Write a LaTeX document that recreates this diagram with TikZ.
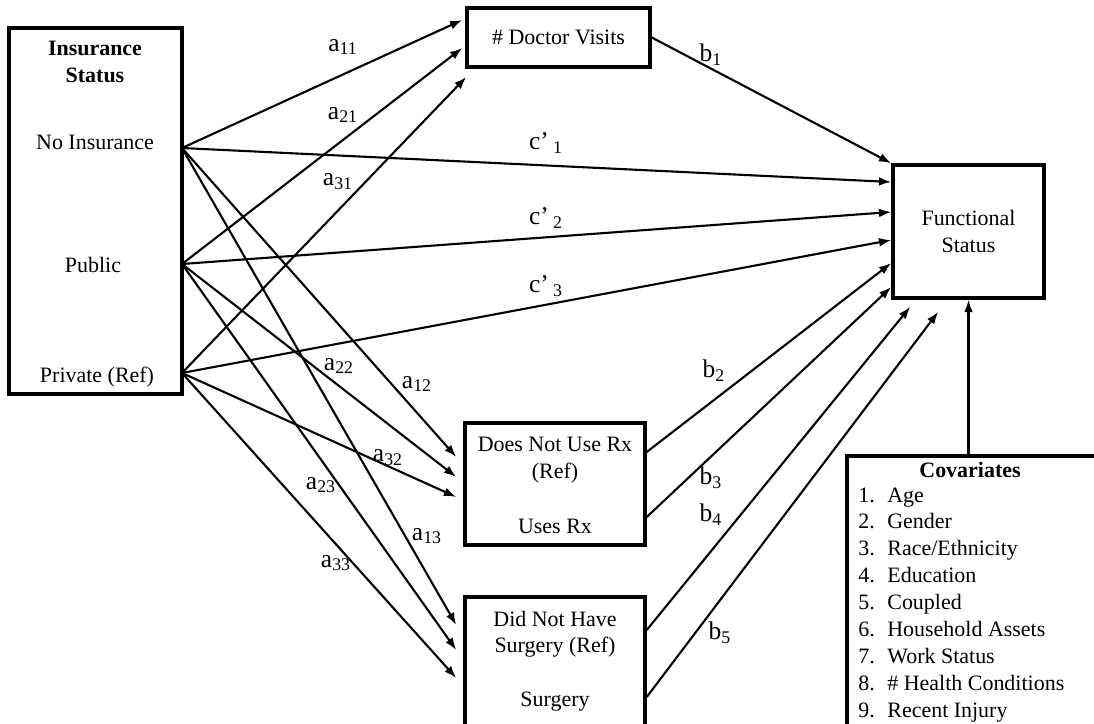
\documentclass[tikz,border=0pt]{standalone}
\usepackage{fontspec}
\setmainfont{Liberation Serif}
\usetikzlibrary{arrows.meta,positioning,calc}

\begin{document}
\begin{tikzpicture}[x=0.02cm, y=-0.02cm, font=\fontsize{12.5}{15}\selectfont,
    box/.style={draw, line width=2pt},
    link/.style={-{Latex[length=7pt,width=5pt]}, line width=1.2pt},
    lbl/.style={font=\fontsize{14.5}{16}\selectfont, inner sep=1pt}]
    \useasboundingbox (0,0) rectangle (1094,723);

    % Insurance status
    \node[box, minimum width=3.46cm, minimum height=7.32cm] (ins) at (95.5,211) {};
    \node[align=center] (institle) at (95,62) {\textbf{Insurance}\\\textbf{Status}};
    \node (noins) at (95,142) {No Insurance};
    \node (pub) at (93,265) {Public};
    \node (priv) at (97,377) {Private (Ref)};
    \coordinate (sNo) at (182,148);
    \coordinate (sPub) at (182,264);
    \coordinate (sPriv) at (182,373);

    % Mediators
    \node[box, minimum width=3.66cm, minimum height=1.18cm] (doc) at (558.5,37.5) {\# Doctor Visits};
    \node[box, minimum width=3.6cm, minimum height=2.44cm] (rx) at (555,484) {};
    \node[align=center] (rxref) at (555,460) {Does Not Use Rx\\(Ref)};
    \node (rxuse) at (555,526) {Uses Rx};
    \node[box, minimum width=3.6cm, minimum height=2.76cm] (surg) at (555,666) {};
    \node[align=center] (surgref) at (555,634) {Did Not Have\\Surgery (Ref)};
    \node (surguse) at (555,702) {Surgery};

    % Outcome
    \node[box, align=center, minimum width=3.02cm, minimum height=2.66cm] (func) at (968.5,231.5) {Functional\\Status};

    % Covariates
    \node[box, minimum width=5.06cm, minimum height=5.58cm] (cov) at (973.5,595.5) {};
    \node (covtitle) at (970,470) {\textbf{Covariates}};
    \foreach \txt [count=\i] in {Age, Gender, {Race/Ethnicity}, Education, Coupled,
        {Household Assets}, {Work Status}, {\# Health Conditions}, {Recent Injury}} {
        \node[anchor=base west, inner sep=0pt] (covn\i) at (858,{502+26.9*(\i-1)}) {\i.};
        \node[anchor=base west, inner sep=0pt] (cov\i) at (887,{502+26.9*(\i-1)}) {\txt};
    }
    \draw[link] (func.south |- cov.north) -- (func.south);

    % Insurance -> doctor visits
    \draw[link] (sNo) -- ($(doc.west)+(-3,-17.5)$);
    \draw[link] (sPub) -- ($(doc.west)+(-3,10.5)$);
    \draw[link] (sPriv) -- ($(doc.west)+(1,39.5)$);
    \node[lbl] (la11) at (343,47) {a\textsubscript{11}};
    \node[lbl] (la21) at (343,115) {a\textsubscript{21}};
    \node[lbl] (la31) at (338,182) {a\textsubscript{31}};

    % Insurance -> functional status
    \draw[link] (sNo) -- ($(func.west)+(0,-49.5)$);
    \draw[link] (sPub) -- ($(func.west)+(0,-19.5)$);
    \draw[link] (sPriv) -- ($(func.west)+(0,8.5)$);
    \node[lbl] (lc1) at (546,143) {c’\,\textsubscript{1}};
    \node[lbl] (lc2) at (546,218) {c’\,\textsubscript{2}};
    \node[lbl] (lc3) at (546,286) {c’\,\textsubscript{3}};

    % Insurance -> Rx
    \draw[link] (sNo) -- ($(rx.west)+(-7,-27)$);
    \draw[link] (sPub) -- ($(rx.west)+(-7,-7)$);
    \draw[link] (sPriv) -- ($(rx.west)+(-7,13)$);
    \node[lbl] (la12) at (417,384) {a\textsubscript{12}};
    \node[lbl] (la22) at (339,366) {a\textsubscript{22}};
    \node[lbl] (la32) at (388,458) {a\textsubscript{32}};

    % Insurance -> surgery
    \draw[link] (sNo) -- ($(surg.west)+(-7,-41)$);
    \draw[link] (sPub) -- ($(surg.west)+(-7,-16)$);
    \draw[link] (sPriv) -- ($(surg.west)+(-7,12)$);
    \node[lbl] (la13) at (427,536) {a\textsubscript{13}};
    \node[lbl] (la23) at (321,485) {a\textsubscript{23}};
    \node[lbl] (la33) at (336,563) {a\textsubscript{33}};

    % Mediators -> functional status
    \draw[link] (doc.east) -- (func.north west);
    \draw[link] ($(rx.east)+(0,-32)$) -- ($(func.west)+(0,31.5)$);
    \draw[link] ($(rx.east)+(0,33)$) -- ($(func.west)+(0,55.5)$);
    \draw[link] ($(surg.east)+(0,-36)$) -- ($(func.south west)+(19,7)$);
    \draw[link] ($(surg.east)+(0,31)$) -- ($(func.south west)+(47,12)$);
    \node[lbl] (lb1) at (711,55) {b\textsubscript{1}};
    \node[lbl] (lb2) at (714,371) {b\textsubscript{2}};
    \node[lbl] (lb3) at (711,478) {b\textsubscript{3}};
    \node[lbl] (lb4) at (711,515) {b\textsubscript{4}};
    \node[lbl] (lb5) at (720,633) {b\textsubscript{5}};
\end{tikzpicture}
\end{document}
